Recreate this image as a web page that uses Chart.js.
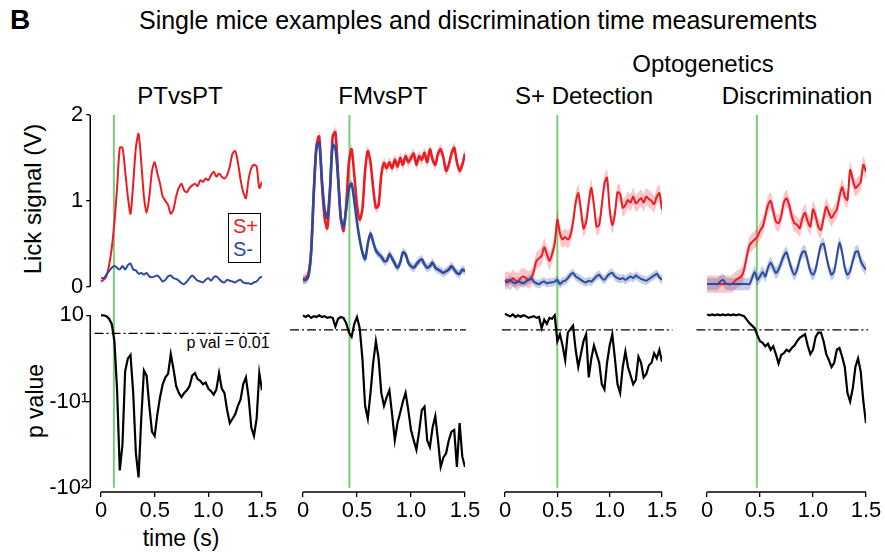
<!DOCTYPE html>
<html>
<head>
<meta charset="utf-8">
<script src="https://cdn.jsdelivr.net/npm/chart.js@4.4.1/dist/chart.umd.min.js"></script>
<style>
  body { margin: 0; background: #fff; font-family: "Liberation Sans", Arial, sans-serif; }
  #fig { position: relative; width: 885px; height: 553px; overflow: hidden; }
  #fig canvas { position: absolute; left: 0; top: 0; }
  .t { position: absolute; white-space: nowrap; color: #000; font-size: 24px; line-height: 1; transform: translate(-50%, -50%); }
  .rot { transform: translate(-50%, -50%) rotate(-90deg); font-size: 23px; }
  #legend { position: absolute; left: 228px; top: 213px; width: 33px; height: 50px; border: 1.5px solid #000;
            font-size: 20px; line-height: 23px; padding: 1px 0 0 4px; box-sizing: border-box; }
</style>
</head>
<body>
<div id="fig">
  <div class="t" style="left:20px;top:20px;font-weight:bold;font-size:28px">B</div>
  <div class="t" style="left:478px;top:20px;font-size:25px">Single mice examples and discrimination time measurements</div>
  <div class="t" style="left:703px;top:64px">Optogenetics</div>
  <div class="t" style="left:180px;top:96px">PTvsPT</div>
  <div class="t" style="left:383px;top:96px">FMvsPT</div>
  <div class="t" style="left:584px;top:96px">S+ Detection</div>
  <div class="t" style="left:797px;top:96px">Discrimination</div>
  <div class="t rot" style="left:33px;top:199px;font-size:24px">Lick signal (V)</div>
  <div class="t rot" style="left:35px;top:401px">p value</div>
  <div class="t" style="left:181px;top:538px;font-size:23px">time (s)</div>
  <div class="t" style="left:228px;top:343px;font-size:16px">p val = 0.01</div>
  <div id="legend"><span style="color:#ed1c24">S+</span><br><span style="color:#2c4a9e">S-</span></div>
</div>
<script>
// time axis (s)
const TIME = [0,0.025,0.05,0.075,0.1,0.125,0.15,0.175,0.2,0.225,
  0.25,0.275,0.3,0.325,0.35,0.375,0.4,0.425,0.45,0.475,
  0.5,0.525,0.55,0.575,0.6,0.625,0.65,0.675,0.7,0.725,
  0.75,0.775,0.8,0.825,0.85,0.875,0.9,0.925,0.95,0.975,
  1,1.025,1.05,1.075,1.1,1.125,1.15,1.175,1.2,1.225,
  1.25,1.275,1.3,1.325,1.35,1.375,1.4,1.425,1.45,1.475,
  1.5];

const TITLES = ["PTvsPT", "FMvsPT", "S+ Detection", "Discrimination"];
const X_TICKS = [0, 0.5, 1, 1.5];
const LICK_TICKS = [0, 1, 2];
const P_TICKS = [0, -1, -2];
// thin space after "10" keeps its digits in line with the superscripted labels
const P_TICK_LABELS = ["10\u2009", "-10\u00b9", "-10\u00b2"];

// lick signal (V)
const PT_SPLUS = [0.06,0.08,0.12,0.25,0.45,0.75,1.15,1.62,1.62,1.35,
  1.05,0.85,1.2,1.62,1.78,1.45,1.05,0.86,1.05,1.35,
  1.45,1.32,1.2,1.05,1.0,0.95,0.85,0.9,1.05,1.15,
  1.2,1.12,1.1,1.15,1.18,1.2,1.17,1.24,1.22,1.26,
  1.24,1.3,1.34,1.28,1.32,1.28,1.26,1.3,1.4,1.55,
  1.58,1.45,1.25,1.1,1.03,1.25,1.38,1.42,1.4,1.15,
  1.22];
const PT_SMINUS = [0.1,0.1,0.14,0.18,0.22,0.24,0.22,0.2,0.24,0.2,
  0.25,0.27,0.2,0.19,0.15,0.16,0.14,0.16,0.12,0.11,
  0.12,0.13,0.1,0.06,0.08,0.12,0.13,0.1,0.09,0.07,
  0.04,0.03,0.06,0.1,0.13,0.1,0.07,0.06,0.05,0.08,
  0.1,0.07,0.11,0.12,0.09,0.06,0.05,0.08,0.07,0.06,
  0.05,0.07,0.08,0.05,0.04,0.04,0.03,0.05,0.06,0.1,
  0.12];
const FM_SPLUS = [0.08,0.1,0.14,0.4,1.1,1.65,1.75,1.2,0.8,0.68,
  1.1,1.75,1.8,1.3,0.8,0.65,0.95,1.45,1.6,1.3,
  0.95,0.78,0.9,1.35,1.58,1.45,1.15,0.92,0.95,1.3,
  1.44,1.38,1.45,1.38,1.48,1.4,1.5,1.42,1.52,1.45,
  1.5,1.55,1.42,1.52,1.48,1.56,1.45,1.6,1.48,1.42,
  1.55,1.6,1.5,1.35,1.42,1.55,1.62,1.45,1.35,1.42,
  1.55];
const FM_SMINUS = [0.08,0.08,0.12,0.4,1.1,1.62,1.68,1.25,0.9,0.8,
  1.15,1.65,1.62,1.25,0.8,0.7,0.9,1.15,1.2,1.0,
  0.75,0.55,0.4,0.32,0.5,0.62,0.52,0.42,0.38,0.35,
  0.3,0.3,0.38,0.33,0.27,0.22,0.28,0.4,0.38,0.28,
  0.24,0.22,0.26,0.3,0.32,0.26,0.22,0.24,0.28,0.22,
  0.2,0.18,0.16,0.18,0.2,0.24,0.2,0.16,0.15,0.2,
  0.18];
const DET_SPLUS = [0.06,0.08,0.06,0.1,0.07,0.06,0.1,0.12,0.1,0.08,
  0.1,0.18,0.3,0.33,0.36,0.46,0.38,0.3,0.38,0.5,
  0.78,0.62,0.55,0.58,0.55,0.6,0.75,0.98,1.09,0.9,
  0.68,0.75,0.98,1.15,0.95,0.7,0.72,0.95,1.2,1.27,
  0.9,0.72,0.85,1.1,1.08,0.92,0.95,1.01,0.98,1.05,
  0.97,1.0,1.03,0.98,1.05,1.02,1.0,0.96,1.05,1.09,
  0.9];
const DET_SMINUS = [0.06,0.05,0.08,0.05,0.04,0.06,0.05,0.04,0.06,0.08,
  0.1,0.06,0.04,0.03,0.05,0.06,0.04,0.05,0.05,0.06,
  0.08,0.03,0.06,0.07,0.1,0.14,0.16,0.12,0.1,0.08,
  0.06,0.05,0.07,0.06,0.09,0.12,0.14,0.1,0.08,0.12,
  0.15,0.16,0.12,0.1,0.09,0.1,0.08,0.1,0.12,0.1,
  0.13,0.11,0.09,0.08,0.07,0.09,0.11,0.13,0.15,0.11,
  0.08];
const DIS_SPLUS = [0.03,0.03,0.03,0.03,0.03,0.03,0.03,0.03,0.03,0.03,
  0.05,0.08,0.1,0.12,0.2,0.35,0.48,0.52,0.55,0.58,
  0.65,0.7,0.82,0.95,1.0,0.88,0.76,0.74,0.82,0.98,
  1.03,0.95,0.82,0.74,0.72,0.68,0.8,0.86,0.76,0.7,
  0.9,0.82,0.7,0.66,0.8,0.93,0.86,0.8,0.85,0.9,
  1.05,1.16,1.05,1.01,1.36,1.25,1.15,1.18,1.22,1.42,
  1.34];
const DIS_SMINUS = [0.03,0.03,0.03,0.03,0.03,0.06,0.08,0.04,0.03,0.03,
  0.03,0.03,0.03,0.03,0.03,0.03,0.03,0.1,0.17,0.08,
  0.12,0.17,0.12,0.22,0.28,0.22,0.16,0.2,0.28,0.36,
  0.4,0.3,0.2,0.14,0.2,0.32,0.4,0.41,0.3,0.18,
  0.14,0.2,0.35,0.48,0.5,0.36,0.22,0.14,0.18,0.35,
  0.51,0.4,0.22,0.14,0.18,0.3,0.4,0.41,0.3,0.24,
  0.2];

// s.e.m. of each mean trace (V), null = no band drawn
const SEM_SPLUS = [null, 0.06, 0.1, 0.1];
const SEM_SMINUS = [null, 0.05, 0.05, 0.07];

// signed log10 p value
const PT_P = [0,0,-0.01,-0.04,-0.1,-0.3,-0.87,-1.8,-1.5,-0.65,
  -0.5,-0.46,-0.9,-1.6,-1.88,-1.2,-0.64,-0.7,-1.05,-1.35,
  -1.4,-1.15,-0.95,-0.8,-0.72,-0.68,-0.45,-0.62,-0.82,-0.9,
  -0.95,-0.9,-0.87,-0.82,-0.7,-0.67,-0.74,-0.76,-0.8,-0.78,
  -0.85,-0.88,-0.92,-0.86,-0.67,-0.85,-0.9,-1.1,-1.25,-1.2,
  -1.15,-1.05,-0.98,-0.8,-0.72,-0.95,-1.3,-1.4,-1.2,-0.67,
  -0.87];
const FM_P = [0,-0.02,0,-0.03,-0.01,-0.02,0,-0.02,-0.01,-0.03,
  -0.02,-0.03,-0.13,-0.04,-0.02,-0.03,-0.09,-0.2,-0.25,-0.1,
  -0.02,-0.15,-0.5,-1.05,-1.2,-0.9,-0.55,-0.3,-0.5,-0.9,
  -1.05,-0.95,-0.87,-1.15,-1.45,-1.25,-1.13,-1.0,-0.9,-1.1,
  -1.33,-1.45,-1.56,-1.35,-1.1,-1.06,-1.45,-1.53,-1.3,-1.17,
  -1.45,-1.76,-1.65,-1.6,-1.45,-1.35,-1.33,-1.76,-1.25,-1.64,
  -1.76];
const DET_P = [0.02,0,-0.01,0.01,-0.02,0,-0.02,0,-0.01,-0.03,
  -0.02,-0.01,-0.03,-0.02,-0.15,-0.05,-0.1,-0.03,-0.04,0,
  -0.3,-0.22,-0.35,-0.52,-0.2,-0.16,-0.12,-0.4,-0.6,-0.45,
  -0.3,-0.22,-0.72,-0.5,-0.35,-0.45,-0.55,-0.8,-0.86,-0.55,
  -0.35,-0.22,-0.5,-0.8,-0.9,-0.6,-0.42,-0.6,-0.7,-0.8,
  -0.75,-0.48,-0.55,-0.72,-0.68,-0.58,-0.55,-0.44,-0.5,-0.4,
  -0.54];
const DIS_P = [0.01,0,0.01,0,0.01,0,0.01,0,0.01,0,
  0.01,0,0.01,0,-0.01,-0.05,-0.09,-0.12,-0.15,-0.23,
  -0.3,-0.32,-0.36,-0.33,-0.4,-0.36,-0.45,-0.56,-0.46,-0.44,
  -0.4,-0.42,-0.38,-0.35,-0.3,-0.26,-0.24,-0.22,-0.35,-0.45,
  -0.4,-0.25,-0.2,-0.2,-0.3,-0.45,-0.52,-0.6,-0.55,-0.4,
  -0.38,-0.48,-0.6,-0.9,-1.0,-0.85,-0.6,-0.5,-0.65,-1.0,
  -1.25];

// discrimination time (s) and p = 0.01 threshold line
const ONSET = [0.12, 0.43, 0.5, 0.47];
const THRESH = [-0.21, -0.17, -0.17, -0.17];
const THRESH_FROM = [-0.06, -0.12, -0.03, -0.1];
const THRESH_TO = [1.57, 1.51, 1.6, 1.52];

const SPLUS = [PT_SPLUS, FM_SPLUS, DET_SPLUS, DIS_SPLUS];
const SMINUS = [PT_SMINUS, FM_SMINUS, DET_SMINUS, DIS_SMINUS];
const PVAL = [PT_P, FM_P, DET_P, DIS_P];

const RED = "#ed1c24", BLUE = "#2c4a9e", GREEN = "#7ccb7a";
const RED_BAND = "rgba(237,28,36,0.25)", BLUE_BAND = "rgba(44,74,158,0.28)";
const FONT = "'Liberation Sans', Arial, sans-serif";
const W = 885, H = 553, YW = 40, XH = 40;

// pixel layout of each column: where t = 0 and t = 1.5 land
const COL_X0 = [101, 303, 505, 707];
const COL_X15 = [262, 465, 662, 866];
const TOP_AREA = { t: 115, b: 297 };   // y range [-0.12, 2]
const BOT_AREA = { t: 311, b: 492 };   // y range [-2.05, 0.05]

Chart.defaults.font.family = FONT;
Chart.defaults.color = "#000";

const pts = vals => vals.map((v, i) => ({ x: TIME[i], y: v }));
const shifted = (vals, d) => vals.map((v, i) => ({ x: TIME[i], y: v + d }));

const spines = {
  id: "spines",
  afterDraw(chart, args, o) {
    const { ctx, chartArea, scales } = chart;
    ctx.save();
    ctx.strokeStyle = "#000";
    ctx.lineWidth = 1.5;
    ctx.beginPath();
    if (o.y) {
      ctx.moveTo(chartArea.left, scales.y.getPixelForValue(o.y[0]));
      ctx.lineTo(chartArea.left, scales.y.getPixelForValue(o.y[1]));
    }
    if (o.x) {
      ctx.moveTo(scales.x.getPixelForValue(X_TICKS[0]), chartArea.bottom);
      ctx.lineTo(scales.x.getPixelForValue(X_TICKS[X_TICKS.length - 1]), chartArea.bottom);
    }
    ctx.stroke();
    ctx.restore();
  }
};

const onsetLine = {
  id: "onsetLine",
  beforeDatasetsDraw(chart, args, o) {
    if (o.t == null) return;
    const x = chart.scales.x.getPixelForValue(o.t);
    const ctx = chart.ctx;
    ctx.save();
    ctx.strokeStyle = GREEN;
    ctx.lineWidth = 2;
    ctx.beginPath();
    ctx.moveTo(x, TOP_AREA.t);
    ctx.lineTo(x, chart.scales.y.getPixelForValue(-2));
    ctx.stroke();
    ctx.restore();
  }
};

function addCanvas() {
  const c = document.createElement("canvas");
  c.width = W; c.height = H;
  c.style.width = W + "px"; c.style.height = H + "px";
  document.getElementById("fig").appendChild(c);
  return c;
}

function makePanel(col, top, datasets, yRange, yTicks, yLabels, showX, onset) {
  const showY = col === 0;
  const x0 = COL_X0[col], x15 = COL_X15[col];
  const left = x0 - 0.1 * (x15 - x0) / 1.5;
  const area = top ? TOP_AREA : BOT_AREA;
  new Chart(addCanvas(), {
    type: "line",
    data: { datasets },
    options: {
      responsive: false,
      animation: false,
      events: [],
      layout: {
        padding: {
          left: left - (showY ? YW : 0),
          right: W - x15,
          top: area.t,
          bottom: H - area.b - (showX ? XH : 0)
        }
      },
      elements: { point: { radius: 0 } },
      plugins: {
        legend: { display: false },
        tooltip: { enabled: false },
        spines: { y: showY ? [yTicks[yTicks.length - 1], yTicks[0]] : null, x: showX },
        onsetLine: { t: onset }
      },
      scales: {
        x: {
          type: "linear", min: -0.1, max: 1.5, display: showX,
          afterFit: s => { s.height = showX ? XH : 0; },
          afterBuildTicks: s => { s.ticks = X_TICKS.map(v => ({ value: v })); },
          border: { display: false },
          grid: { drawOnChartArea: false, drawTicks: true, tickLength: 5, color: "#000", lineWidth: 1.3 },
          ticks: { font: { size: 22 }, color: "#000", padding: 1, maxRotation: 0, autoSkip: false }
        },
        y: {
          type: "linear", min: yRange[0], max: yRange[1], display: showY,
          afterFit: s => { s.width = showY ? YW : 0; },
          afterBuildTicks: s => { s.ticks = yTicks.map(v => ({ value: v })); },
          border: { display: false },
          grid: { drawOnChartArea: false, drawTicks: true, tickLength: 4, color: "#000", lineWidth: 1.3 },
          ticks: {
            font: { size: 22 }, color: "#000", padding: top ? 3 : -2, autoSkip: false,
            callback: v => yLabels[yTicks.indexOf(v)]
          }
        }
      }
    },
    plugins: [spines, onsetLine]
  });
}

// bottom row first so the top row is layered above the green onset line
for (let c = 0; c < 4; c++) {
  makePanel(c, false, [
    { data: pts(PVAL[c]), borderColor: "#000", borderWidth: 2.2, tension: 0, fill: false },
    {
      data: [{ x: THRESH_FROM[c], y: THRESH[c] }, { x: THRESH_TO[c], y: THRESH[c] }],
      borderColor: "#000", borderWidth: 1.3, borderDash: [9, 3, 2, 3], fill: false, clip: false
    }
  ], [-2.05, 0.05], P_TICKS, P_TICK_LABELS, true, ONSET[c]);
}

for (let c = 0; c < 4; c++) {
  const lw = c === 1 ? 2.6 : 2;
  const ds = [
    { data: pts(SMINUS[c]), borderColor: BLUE, borderWidth: lw, tension: 0.25, fill: false },
    { data: pts(SPLUS[c]), borderColor: RED, borderWidth: lw, tension: 0.25, fill: false }
  ];
  if (SEM_SMINUS[c] != null) {
    ds.push(
      { data: shifted(SMINUS[c], SEM_SMINUS[c]), borderWidth: 0, tension: 0.25, backgroundColor: BLUE_BAND, fill: "+1" },
      { data: shifted(SMINUS[c], -SEM_SMINUS[c]), borderWidth: 0, tension: 0.25, fill: false }
    );
  }
  if (SEM_SPLUS[c] != null) {
    ds.push(
      { data: shifted(SPLUS[c], SEM_SPLUS[c]), borderWidth: 0, tension: 0.25, backgroundColor: RED_BAND, fill: "+1" },
      { data: shifted(SPLUS[c], -SEM_SPLUS[c]), borderWidth: 0, tension: 0.25, fill: false }
    );
  }
  makePanel(c, true, ds, [-0.12, 2], LICK_TICKS, LICK_TICKS.map(String), false, null);
}
</script>
</body>
</html>
